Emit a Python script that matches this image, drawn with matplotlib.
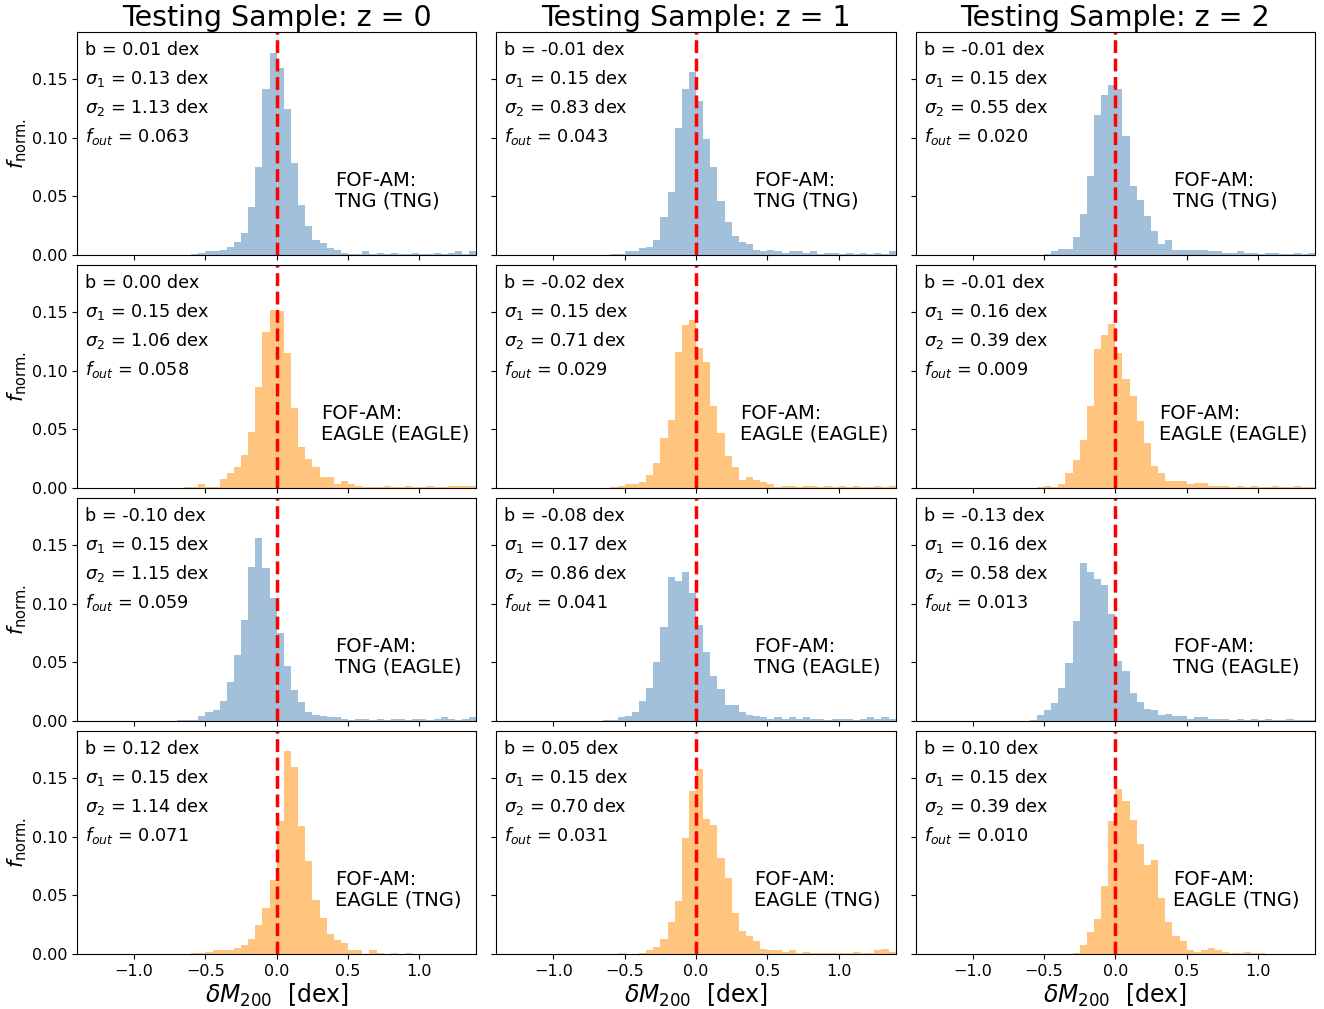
import numpy as np
import matplotlib
matplotlib.use("Agg")
import matplotlib.pyplot as plt

# Normalised histograms of delta M200, bins of 0.05 dex starting at -0.7 dex
bin_start = -0.7
bin_width = 0.05

redshifts = [0, 1, 2]
model_labels = ["FOF-AM:\nTNG (TNG)", "FOF-AM:\nEAGLE (EAGLE)", "FOF-AM:\nTNG (EAGLE)", "FOF-AM:\nEAGLE (TNG)"]
row_colors = ["steelblue", "darkorange", "steelblue", "darkorange"]

bias = [["0.01", "-0.01", "-0.01"],
        ["0.00", "-0.02", "-0.01"],
        ["-0.10", "-0.08", "-0.13"],
        ["0.12", "0.05", "0.10"]]
sigma1 = [["0.13", "0.15", "0.15"],
          ["0.15", "0.15", "0.16"],
          ["0.15", "0.17", "0.16"],
          ["0.15", "0.15", "0.15"]]
sigma2 = [["1.13", "0.83", "0.55"],
          ["1.06", "0.71", "0.39"],
          ["1.15", "0.86", "0.58"],
          ["1.14", "0.70", "0.39"]]
f_out = [["0.063", "0.043", "0.020"],
         ["0.058", "0.029", "0.009"],
         ["0.059", "0.041", "0.013"],
         ["0.071", "0.031", "0.010"]]

# TNG (TNG)
tng_tng_z0 = [0, 0, 0.001, 0.002, 0.003, 0.003, 0.004, 0.007, 0.011, 0.019, 0.041, 0.075, 0.141, 0.172,
              0.159, 0.124, 0.078, 0.043, 0.025, 0.013, 0.010, 0.006, 0.004, 0.002, 0.001, 0.001, 0.003, 0.001,
              0.002, 0.001, 0.002, 0.001, 0.001, 0.002, 0.001, 0.001, 0.002, 0.001, 0.002, 0.003, 0.001, 0.003]
tng_tng_z1 = [0, 0, 0.001, 0.001, 0.003, 0.003, 0.006, 0.007, 0.013, 0.032, 0.054, 0.108, 0.141, 0.156,
              0.131, 0.099, 0.075, 0.046, 0.028, 0.016, 0.011, 0.009, 0.004, 0.003, 0.004, 0.003, 0.002, 0.003,
              0.003, 0.002, 0.003, 0.001, 0.002, 0.002, 0.001, 0.002, 0.001, 0.002, 0.001, 0.002, 0.001, 0.003]
tng_tng_z2 = [0, 0, 0, 0, 0.001, 0.003, 0.005, 0.005, 0.015, 0.035, 0.067, 0.119, 0.136, 0.145,
              0.141, 0.101, 0.059, 0.047, 0.033, 0.020, 0.009, 0.013, 0.004, 0.004, 0.004, 0.004, 0.004, 0.003,
              0.003, 0.002, 0.002, 0.003, 0.002, 0.002, 0.001, 0.002, 0.002, 0.001, 0.001, 0.002, 0.001, 0.002]
# EAGLE (EAGLE)
eagle_eagle_z0 = [0, 0.001, 0.001, 0.003, 0.001, 0.001, 0.008, 0.013, 0.018, 0.028, 0.048, 0.086, 0.133, 0.152,
                  0.151, 0.115, 0.068, 0.035, 0.025, 0.018, 0.009, 0.009, 0.003, 0.006, 0.003, 0.002, 0.001, 0.001,
                  0.001, 0.002, 0.001, 0.001, 0.002, 0.001, 0.001, 0.002, 0.001, 0.001, 0.002, 0.002, 0.002, 0.002]
eagle_eagle_z1 = [0, 0, 0.001, 0.002, 0.003, 0.003, 0.005, 0.011, 0.021, 0.043, 0.058, 0.116, 0.139, 0.143,
                  0.119, 0.107, 0.070, 0.047, 0.027, 0.018, 0.007, 0.009, 0.007, 0.005, 0.003, 0.001, 0.002, 0.002,
                  0.001, 0.002, 0.002, 0.001, 0.002, 0.001, 0.002, 0.001, 0.002, 0.001, 0.001, 0.002, 0.001, 0.002]
eagle_eagle_z2 = [0, 0, 0, 0.001, 0.002, 0.001, 0.003, 0.013, 0.024, 0.041, 0.070, 0.118, 0.130, 0.140,
                  0.115, 0.093, 0.078, 0.057, 0.038, 0.019, 0.013, 0.006, 0.006, 0.006, 0.003, 0.004, 0.004, 0.002,
                  0.002, 0.002, 0.001, 0.002, 0.001, 0.002, 0.001, 0.001, 0.002, 0.001, 0.001, 0.002, 0.001, 0.001]
# TNG (EAGLE)
tng_eagle_z0 = [0.001, 0.001, 0.001, 0.004, 0.008, 0.009, 0.017, 0.033, 0.056, 0.086, 0.131, 0.156, 0.130, 0.105,
                0.075, 0.047, 0.026, 0.016, 0.008, 0.005, 0.004, 0.003, 0.003, 0.002, 0.001, 0.002, 0.002, 0.001,
                0.002, 0.001, 0.002, 0.002, 0.001, 0.002, 0.002, 0.001, 0.002, 0.003, 0.002, 0.001, 0.002, 0.003]
tng_eagle_z1 = [0, 0.001, 0.001, 0.003, 0.004, 0.008, 0.017, 0.028, 0.050, 0.080, 0.123, 0.119, 0.127, 0.109,
                0.082, 0.059, 0.038, 0.027, 0.014, 0.014, 0.008, 0.005, 0.004, 0.003, 0.002, 0.003, 0.002, 0.003,
                0.002, 0.003, 0.002, 0.002, 0.001, 0.002, 0.002, 0.002, 0.001, 0.002, 0.003, 0.002, 0.003, 0.002]
tng_eagle_z2 = [0, 0, 0.001, 0.005, 0.009, 0.015, 0.028, 0.049, 0.085, 0.135, 0.127, 0.121, 0.116, 0.091,
                0.051, 0.043, 0.024, 0.016, 0.010, 0.009, 0.005, 0.006, 0.004, 0.004, 0.002, 0.003, 0.003, 0.002,
                0.002, 0.002, 0.001, 0.002, 0.001, 0.002, 0.001, 0.002, 0.001, 0.001, 0.002, 0.001, 0.001, 0.001]
# EAGLE (TNG)
eagle_tng_z0 = [0, 0, 0.001, 0.001, 0.002, 0.003, 0.003, 0.003, 0.005, 0.008, 0.013, 0.025, 0.039, 0.063,
                0.113, 0.173, 0.159, 0.109, 0.079, 0.046, 0.031, 0.017, 0.012, 0.009, 0.003, 0.003, 0, 0.003,
                0.001, 0, 0.001, 0, 0.001, 0, 0, 0, 0, 0, 0, 0, 0, 0]
eagle_tng_z1 = [0, 0, 0, 0.001, 0, 0, 0.001, 0.003, 0.006, 0.013, 0.027, 0.045, 0.099, 0.139,
                0.158, 0.115, 0.110, 0.082, 0.065, 0.035, 0.020, 0.015, 0.011, 0.004, 0.003, 0.003, 0.002, 0.003,
                0.001, 0.002, 0.001, 0.001, 0.001, 0.001, 0.001, 0.001, 0.002, 0.001, 0.001, 0.003, 0.004, 0.002]
eagle_tng_z2 = [0, 0, 0, 0, 0, 0, 0, 0, 0.001, 0.008, 0.019, 0.030, 0.058, 0.113,
                0.141, 0.130, 0.114, 0.094, 0.076, 0.080, 0.048, 0.027, 0.015, 0.011, 0.003, 0.002, 0.003, 0.005,
                0.003, 0.002, 0.001, 0.001, 0.002, 0.001, 0.001, 0, 0, 0, 0, 0, 0, 0]

hists = [[tng_tng_z0, tng_tng_z1, tng_tng_z2],
         [eagle_eagle_z0, eagle_eagle_z1, eagle_eagle_z2],
         [tng_eagle_z0, tng_eagle_z1, tng_eagle_z2],
         [eagle_tng_z0, eagle_tng_z1, eagle_tng_z2]]

# label position (EAGLE (EAGLE) sits a bit further left)
label_x = [0.645, 0.61, 0.645, 0.645]

fig, axes = plt.subplots(nrows=4, ncols=3, figsize=(13.24, 10.09), dpi=100, sharex=True, sharey=True)
fig.subplots_adjust(left=0.0582, right=0.9932, top=0.9683, bottom=0.0545, wspace=0.05, hspace=0.045)

for i in range(4):
    for j in range(3):
        ax = axes[i][j]
        vals = np.array(hists[i][j])
        edges = bin_start + bin_width * np.arange(len(vals) + 1)
        centers = edges[:-1] + bin_width / 2
        ax.hist(centers, bins=edges, weights=vals, color=row_colors[i], alpha=0.5)
        ax.axvline(0, color="red", ls="--", lw=2.5)
        ax.set_xlim(-1.4, 1.4)
        ax.set_ylim(0, 0.19)
        ax.set_xticks([-1.0, -0.5, 0.0, 0.5, 1.0])
        ax.set_yticks([0.0, 0.05, 0.10, 0.15])
        ax.tick_params(labelsize=11.5)

        ax.text(0.02, 0.92, "b = {} dex".format(bias[i][j]), transform=ax.transAxes, fontsize=12.7, va="center")
        ax.text(0.02, 0.79, r"$\sigma_1$ = {} dex".format(sigma1[i][j]), transform=ax.transAxes, fontsize=12.7, va="center")
        ax.text(0.02, 0.66, r"$\sigma_2$ = {} dex".format(sigma2[i][j]), transform=ax.transAxes, fontsize=12.7, va="center")
        ax.text(0.02, 0.53, r"$f_{{out}}$ = {}".format(f_out[i][j]), transform=ax.transAxes, fontsize=12.7, va="center")
        ax.text(label_x[i], 0.29, model_labels[i], transform=ax.transAxes, fontsize=14, va="center", linespacing=1.1)

        if i == 0:
            ax.set_title("Testing Sample: z = {}".format(redshifts[j]), fontsize=20.5, pad=2)
        if i == 3:
            ax.set_xlabel(r"$\delta M_{200}$  [dex]", fontsize=17, labelpad=2)
        if j == 0:
            ax.set_ylabel(r"$f_{\rm norm.}$", fontsize=15, labelpad=2)

fig.savefig("out.png", dpi=100)
